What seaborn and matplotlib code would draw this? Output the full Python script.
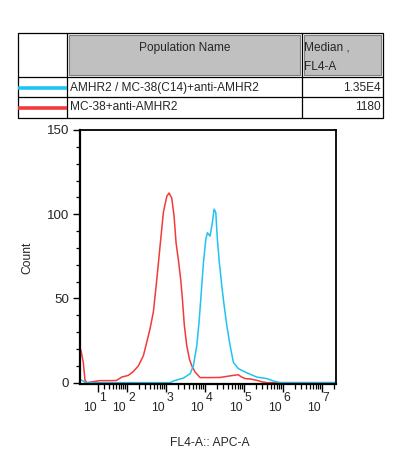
import numpy as np
import pandas as pd
import matplotlib
matplotlib.use('Agg')
import matplotlib.pyplot as plt
import seaborn as sns
from matplotlib.patches import Rectangle
from matplotlib import transforms

# Table content
header_name = 'Population Name'
header_median = ['Median ,', 'FL4-A']
sample_names = ['AMHR2 / MC-38(C14)+anti-AMHR2', 'MC-38+anti-AMHR2']
sample_medians = ['1.35E4', '1180']
sample_colors = ['#1cc4f2', '#f23a3a']

# Histogram traces (FL4-A value, count)
blue_x = [-18.3, -16.5, -12.6, -9.8, 1290, 1565, 2065, 2825, 4200, 5100, 6230, 7130, 8030,
          9200, 10600, 11650, 13650, 15630, 17300, 19140, 21000, 23650, 27250, 31200,
          36600, 44500, 54100, 72600, 108000, 145000, 215000, 388000, 574000, 851000, 2.3e7]
blue_y = [1.5, 1.5, 1, 0, 0, 1, 1.8, 2.7, 5.3, 10, 22, 36, 52,
          71, 85, 89, 87, 95, 103, 101, 85, 71, 57.5, 46,
          34, 22, 12, 8.3, 6.3, 5, 3.3, 2.4, 1, 0, 0]
red_x = [-18.3, -16.5, -12.6, -9.8, -6.7, 13, 33, 52, 72, 108, 148, 198, 266, 325, 395,
         481, 587, 713, 867, 1060, 1213, 1422, 1630, 1835, 2100, 2420, 2660, 2990,
         3450, 4030, 4640, 5640, 7570, 13650, 24650, 53100, 72600, 85100, 108000,
         145000, 215000, 289000, 395000, 2.3e7]
red_y = [20, 19, 12, 1.4, 0, 1.2, 1.2, 1.3, 3.3, 4.3, 6.7, 10, 16, 24, 32,
         42, 61, 81, 101, 110.6, 112.6, 109.6, 99, 83, 73, 61, 50, 34,
         22, 14, 10, 6.3, 3, 3, 3.1, 4.3, 4.7, 3.5, 2.4,
         2.2, 1.4, 0.5, 0, 0]

decades = [1, 2, 3, 4, 5, 6, 7]
y_major = [0, 50, 100, 150]

df = pd.concat([
    pd.DataFrame({'x': red_x, 'count': red_y, 'sample': sample_names[1]}),
    pd.DataFrame({'x': blue_x, 'count': blue_y, 'sample': sample_names[0]}),
])

sns.set_style('ticks')
plt.rcParams['font.family'] = ['Liberation Sans', 'DejaVu Sans']

W, H = 395, 468
fig = plt.figure(figsize=(W / 100, H / 100), dpi=100)
fig.patch.set_facecolor('white')

# --- table on top, drawn in pixel coordinates ---
tax = fig.add_axes([0, 0, 1, 1])
tax.set_xlim(0, W)
tax.set_ylim(H, 0)
tax.axis('off')

tl, tr, tt, tb = 18, 383, 33, 118
c1, c2 = 67, 302
r1, r2 = 77, 97
lw = 0.9
tax.add_patch(Rectangle((tl, tt), tr - tl, tb - tt, fill=False, ec='black', lw=lw))
tax.plot([tl, tr], [r1, r1], color='black', lw=lw)
tax.plot([tl, tr], [r2, r2], color='black', lw=lw)
tax.plot([c1, c1], [tt, tb], color='black', lw=lw)
tax.plot([c2, c2], [tt, tb], color='black', lw=lw)
tax.add_patch(Rectangle((c1 + 2, tt + 2), c2 - c1 - 4, r1 - tt - 4, fc='#c0c0c0', ec='#808080', lw=0.8))
tax.add_patch(Rectangle((c2 + 2, tt + 2), tr - c2 - 4, r1 - tt - 4, fc='#c0c0c0', ec='#808080', lw=0.8))

fs = 8.6
tax.text((c1 + c2) / 2, 48, header_name, ha='center', va='center', fontsize=fs)
tax.text(c2 + 2, 48, header_median[0], ha='left', va='center', fontsize=fs)
tax.text(c2 + 2, 67, header_median[1], ha='left', va='center', fontsize=fs)

row_y = [(r1 + r2) / 2 + 1, (r2 + tb) / 2]
for name, med, col, yy in zip(sample_names, sample_medians, sample_colors, row_y):
    tax.plot([tl, c1], [yy, yy], color=col, lw=2.6, solid_capstyle='butt')
    tax.text(c1 + 3, yy, name, ha='left', va='center', fontsize=fs)
    tax.text(tr - 2, yy, med, ha='right', va='center', fontsize=fs)

# --- histogram ---
ax = fig.add_axes([80 / W, (H - 384) / H, 256 / W, 254 / H])
sns.lineplot(data=df, x='x', y='count', hue='sample',
             hue_order=[sample_names[1], sample_names[0]],
             palette=[sample_colors[1], sample_colors[0]],
             estimator=None, sort=False, lw=1.1, legend=False, ax=ax)

ax.set_xscale('asinh', linear_width=25)
ax.set_xlim(-18.3, 2.3e7)
ax.set_ylim(-0.8, 150)

ax.set_xticks([10 ** d for d in decades], labels=[''] * len(decades))
minor = [m * 10 ** d for d in range(1, 8) for m in range(2, 10) if m * 10 ** d < 2.3e7]
ax.set_xticks(minor, minor=True)
ax.set_yticks(y_major)
ax.set_yticks(np.arange(0, 151, 10), minor=True)

ax.tick_params(axis='x', which='major', direction='out', length=6, width=1.0, color='black')
ax.tick_params(axis='x', which='minor', direction='out', length=3.5, width=0.9, color='black')
ax.tick_params(axis='y', which='major', direction='out', length=5, width=1.0, pad=3,
               labelsize=9.6, color='black')
ax.tick_params(axis='y', which='minor', direction='out', length=2.8, width=0.9, color='black')

for side in ['left', 'bottom']:
    ax.spines[side].set_linewidth(1.6)
for side in ['top', 'right']:
    ax.spines[side].set_linewidth(1.3)
for sp in ax.spines.values():
    sp.set_color('black')

ax.set_xlabel('')
ax.set_ylabel('')

# decade labels: "10" with the exponent raised beside it
blend = transforms.blended_transform_factory(ax.transData, fig.transFigure)
for d in decades:
    t10 = transforms.offset_copy(blend, fig=fig, x=-1, y=0, units='dots')
    texp = transforms.offset_copy(blend, fig=fig, x=1, y=0, units='dots')
    ax.text(10 ** d, 1 - 408 / H, '10', transform=t10, ha='right', va='center',
            fontsize=8.8, clip_on=False)
    ax.text(10 ** d, 1 - 398 / H, str(d), transform=texp, ha='left', va='center',
            fontsize=8.8, clip_on=False)

fig.text(210 / W, 1 - 443 / H, 'FL4-A:: APC-A', ha='center', va='center', fontsize=8.7)
fig.text(27 / W, 1 - 258 / H, 'Count', ha='center', va='center', rotation=90, fontsize=8.7)

fig.savefig('out.png', dpi=100, facecolor='white')
